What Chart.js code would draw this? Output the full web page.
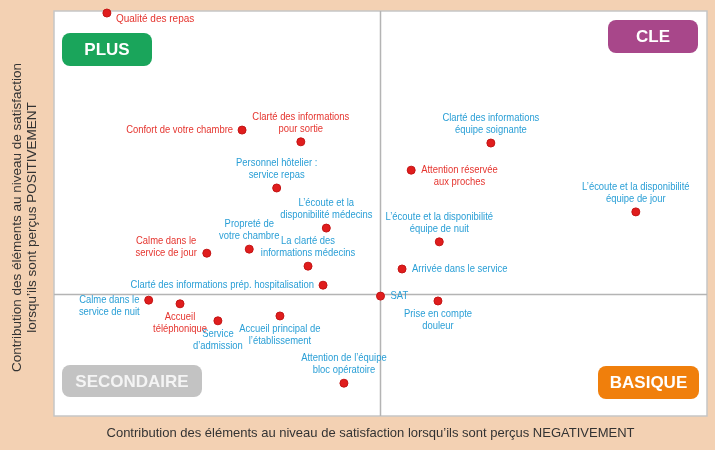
<!DOCTYPE html>
<html>
<head>
<meta charset="utf-8">
<script src="https://cdn.jsdelivr.net/npm/chart.js@4.4.1/dist/chart.umd.min.js"></script>
<style>
  html, body { margin: 0; padding: 0; background: #f3d1b3; }
  #wrap { width: 715px; height: 450px; }
</style>
</head>
<body>
<div id="wrap"><canvas id="matrix"></canvas></div>
<script>
// Items of the satisfaction survey
const categories = [
  ["Qualité des repas"],
  ["Confort de votre chambre"],
  ["Clarté des informations", "pour sortie"],
  ["Personnel hôtelier :", "service repas"],
  ["L’écoute et la", "disponibilité médecins"],
  ["Propreté de", "votre chambre"],
  ["Calme dans le", "service de jour"],
  ["La clarté des", "informations médecins"],
  ["Clarté des informations prép. hospitalisation"],
  ["Calme dans le", "service de nuit"],
  ["Accueil", "téléphonique"],
  ["Service", "d’admission"],
  ["Accueil principal de", "l’établissement"],
  ["Attention de l’équipe", "bloc opératoire"],
  ["SAT"],
  ["Prise en compte", "douleur"],
  ["Arrivée dans le service"],
  ["L’écoute et la disponibilité", "équipe de nuit"],
  ["Attention réservée", "aux proches"],
  ["Clarté des informations", "équipe soignante"],
  ["L’écoute et la disponibilité", "équipe de jour"],
];

// contribution when perceived negatively (x) / positively (y)
const negValues = [8.1, 28.8, 37.8, 34.1, 41.7, 29.9, 23.4, 38.9, 41.2, 14.5, 19.3,
  25.1, 34.6, 44.4, 50, 58.8, 53.3, 59.0, 54.7, 66.9, 89.1];
const posValues = [99.5, 70.6, 67.7, 56.3, 46.4, 41.2, 40.2, 37.0, 32.3, 28.6, 27.7,
  23.5, 24.7, 8.1, 29.6, 28.4, 36.3, 43.0, 60.7, 67.4, 50.4];

const splitX = 50;
const splitY = 30;

const quadrants = ["PLUS", "CLE", "SECONDAIRE", "BASIQUE"];

// label look
const RED = "#e5352f";
const BLUE = "#2a9fd6";
const labelColors = [RED, RED, RED, BLUE, BLUE, BLUE, RED, BLUE, BLUE, BLUE, RED,
  BLUE, BLUE, BLUE, BLUE, BLUE, BLUE, BLUE, RED, BLUE, BLUE];
const labelPlacement = ["rightBelow", "left", "above", "above", "above", "above", "leftUp",
  "above", "left", "left", "below", "below", "below", "above", "right", "below", "right",
  "above", "right", "above", "above"];

const SANS = "'Liberation Sans', Arial, sans-serif";
const SQUEEZE = 0.82; // arial narrow look

const backdrop = {
  id: "backdrop",
  beforeDraw(chart) {
    const { ctx, chartArea: a } = chart;
    ctx.save();
    ctx.fillStyle = "#ffffff";
    ctx.fillRect(a.left, a.top, a.right - a.left, a.bottom - a.top);
    ctx.strokeStyle = "#c6c6c6";
    ctx.lineWidth = 1.5;
    ctx.strokeRect(a.left, a.top, a.right - a.left, a.bottom - a.top);

    // quadrant split lines
    const x = chart.scales.x.getPixelForValue(splitX);
    const y = chart.scales.y.getPixelForValue(splitY);
    ctx.strokeStyle = "#b4b4b4";
    ctx.beginPath();
    ctx.moveTo(x, a.top); ctx.lineTo(x, a.bottom);
    ctx.moveTo(a.left, y); ctx.lineTo(a.right, y);
    ctx.stroke();

    // quadrant badges
    const boxes = [
      { x: a.left + 8, y: a.top + 22, w: 90, h: 33, c: "#1aa55b" },
      { x: a.right - 99, y: a.top + 9, w: 90, h: 33, c: "#a8478a" },
      { x: a.left + 8, y: a.bottom - 51, w: 140, h: 32, c: "#c3c3c3" },
      { x: a.right - 109, y: a.bottom - 50, w: 101, h: 33, c: "#f07f0c" },
    ];
    ctx.font = "bold 17px " + SANS;
    ctx.textAlign = "center";
    ctx.textBaseline = "middle";
    boxes.forEach((b, i) => {
      ctx.fillStyle = b.c;
      ctx.beginPath();
      ctx.roundRect(b.x, b.y, b.w, b.h, 8);
      ctx.fill();
      ctx.fillStyle = i === 2 ? "#f4f4f4" : "#ffffff";
      ctx.fillText(quadrants[i], b.x + b.w / 2, b.y + b.h / 2 + 1);
    });

    // axis titles
    ctx.fillStyle = "#333333";
    ctx.font = "13px " + SANS;
    ctx.fillText("Contribution des éléments au niveau de satisfaction lorsqu’ils sont perçus NEGATIVEMENT",
      (a.left + a.right) / 2 - 10, a.bottom + 17);
    ctx.font = "13.5px " + SANS;
    ctx.save();
    ctx.translate(17, (a.top + a.bottom) / 2 + 4);
    ctx.rotate(-Math.PI / 2);
    ctx.fillText("Contribution des éléments au niveau de satisfaction", 0, 0);
    ctx.fillText("lorsqu’ils sont perçus POSITIVEMENT", 0, 15);
    ctx.restore();
    ctx.restore();
  },
};

const pointLabels = {
  id: "pointLabels",
  afterDatasetsDraw(chart) {
    const { ctx } = chart;
    const pts = chart.getDatasetMeta(0).data;
    const lineH = 12;
    ctx.save();
    ctx.textBaseline = "middle";
    pts.forEach((p, i) => {
      const lines = categories[i];
      const place = labelPlacement[i];
      ctx.fillStyle = labelColors[i];
      if (place === "rightBelow") {
        ctx.font = "10px " + SANS;
        ctx.textAlign = "left";
        ctx.fillText(lines[0], p.x + 9, p.y + 6);
        return;
      }
      ctx.font = "11.5px " + SANS;
      ctx.textAlign = "center";
      const w = SQUEEZE * Math.max(...lines.map(l => ctx.measureText(l).width));
      const n = lines.length;
      let cx = p.x, y0 = p.y;
      if (place === "above") y0 = p.y - 13 - (n - 1) * lineH;
      else if (place === "below") y0 = p.y + 13;
      else if (place === "left") cx = p.x - 9 - w / 2;
      else if (place === "leftUp") { cx = p.x - 10 - w / 2; y0 = p.y - (n - 1) * lineH; }
      else if (place === "right") cx = p.x + 10 + w / 2;
      lines.forEach((l, k) => {
        ctx.save();
        ctx.translate(cx, y0 + k * lineH);
        ctx.scale(SQUEEZE, 1);
        ctx.fillText(l, 0, 0);
        ctx.restore();
      });
    });
    ctx.restore();
  },
};

new Chart(document.getElementById("matrix"), {
  type: "scatter",
  data: {
    datasets: [
      {
        data: negValues.map((v, i) => ({ x: v, y: posValues[i] })),
        backgroundColor: "#e01d1d",
        borderColor: "#c41515",
        borderWidth: 1,
        pointRadius: 4,
        pointHoverRadius: 4,
        clip: false,
      },
    ],
  },
  options: {
    responsive: true,
    maintainAspectRatio: false,
    animation: false,
    layout: { padding: { left: 54, right: 8, top: 11, bottom: 34 } },
    plugins: {
      legend: { display: false },
      tooltip: { enabled: false },
    },
    scales: {
      x: { type: "linear", min: 0, max: 100, display: false },
      y: { type: "linear", min: 0, max: 100, display: false },
    },
  },
  plugins: [backdrop, pointLabels],
});
</script>
</body>
</html>
